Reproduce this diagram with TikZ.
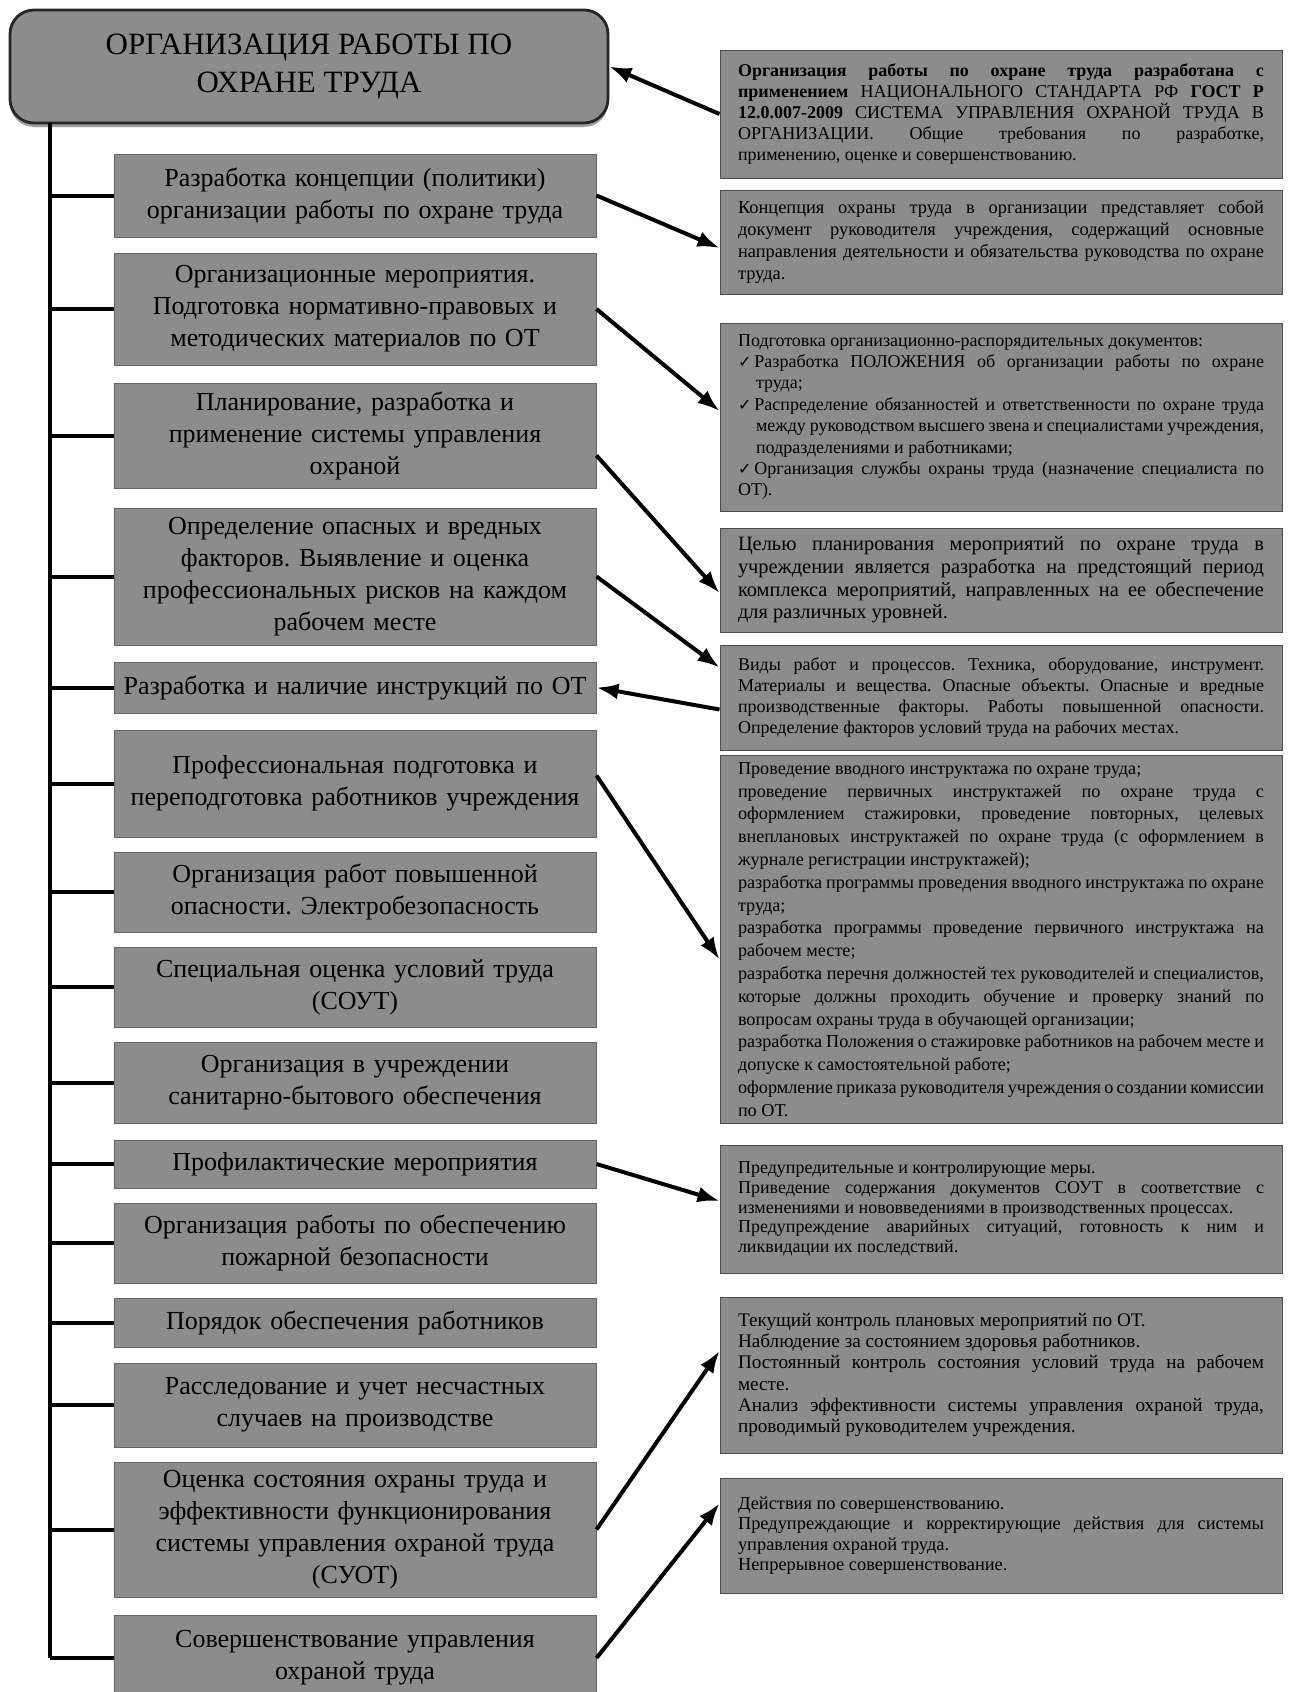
\documentclass[tikz,border=0pt]{standalone}
\usepackage{fontspec}
\setmainfont{Liberation Serif}
\newfontfamily\checkfont{DejaVu Sans}
\newcommand\okmark{\hangindent=1em\hangafter=1{\checkfont\fontsize{8}{10}\selectfont ✓}\,}
\frenchspacing
\usetikzlibrary{arrows.meta,shadows}
\tikzset{
  head/.style={draw=black!85,line width=1.4pt,fill=black!45,rounded corners=12pt,minimum width=299pt,minimum height=56.5pt,align=center,font=\fontsize{15.5}{19}\selectfont,drop shadow={shadow xshift=0pt,shadow yshift=-2pt,fill=black!75}},
  lbox/.style={draw=black!60,line width=0.5pt,fill=black!45,text width=236pt,inner xsep=2.5pt,align=center,font=\fontsize{13}{16}\selectfont},
  rbox/.style={draw=black!70,line width=0.5pt,fill=black!45,text width=263pt,inner xsep=9pt,align=justify,font=\fontsize{9}{10.5}\selectfont},
  branch/.style={line width=2pt},
  conn/.style={line width=2pt,-{Latex[length=11pt,width=8pt]}}
}

\begin{document}
\begin{tikzpicture}[x=0.5pt,y=-0.5pt]
\fill[white,use as bounding box] (0,0) rectangle (1291,1692);

\node[head] (title) at (309,66.5) {ОРГАНИЗАЦИЯ РАБОТЫ ПО\\ОХРАНЕ ТРУДА};

\node[lbox,minimum height=41.5pt] (l1) at (355,195.5) {Разработка концепции (политики)\\организации работы по охране труда};
\node[lbox,minimum height=56pt] (l2) at (355,309) {Организационные мероприятия.\\Подготовка нормативно-правовых и\\методических материалов по ОТ};
\node[lbox,minimum height=52.5pt] (l3) at (355,435.5) {Планирование, разработка и\\применение системы управления\\охраной};
\node[lbox,minimum height=68.5pt] (l4) at (355,576.5) {Определение опасных и вредных\\факторов. Выявление и оценка\\профессиональных рисков на каждом\\рабочем месте};
\node[lbox,minimum height=25.5pt] (l5) at (355,687.5) {Разработка и наличие инструкций по ОТ};
\node[lbox,minimum height=53.5pt] (l6) at (355,783.5) {Профессиональная подготовка и\\переподготовка работников учреждения};
\node[lbox,minimum height=40pt] (l7) at (355,892) {Организация работ повышенной\\опасности. Электробезопасность};
\node[lbox,minimum height=40pt] (l8) at (355,987) {Специальная оценка условий труда\\(СОУТ)};
\node[lbox,minimum height=40.5pt] (l9) at (355,1082.5) {Организация в учреждении\\санитарно-бытового обеспечения};
\node[lbox,minimum height=24pt] (l10) at (355,1164) {Профилактические мероприятия};
\node[lbox,minimum height=40pt] (l11) at (355,1243) {Организация работы по обеспечению\\пожарной безопасности};
\node[lbox,minimum height=24.5pt] (l12) at (355,1322.5) {Порядок обеспечения работников};
\node[lbox,minimum height=42pt] (l13) at (355,1405) {Расследование и учет несчастных\\случаев на производстве};
\node[lbox,minimum height=67.5pt] (l14) at (355,1529.5) {Оценка состояния охраны труда и\\эффективности функционирования\\системы управления охраной труда\\(СУОТ)};
\node[lbox,minimum height=43pt] (l15) at (355,1658) {Совершенствование управления\\охраной труда};

\node[rbox,minimum height=64pt,font=\fontsize{9}{10.6}\selectfont] (r1) at (1001,114) {{\bfseries Организация работы по охране труда разработана с\linebreak применением} НАЦИОНАЛЬНОГО СТАНДАРТА РФ {\bfseries ГОСТ~Р\linebreak 12.0.007-2009} СИСТЕМА УПРАВЛЕНИЯ ОХРАНОЙ ТРУДА В\linebreak ОРГАНИЗАЦИИ. Общие требования по разработке,\linebreak применению, оценке и совершенствованию.};
\node[rbox,minimum height=52pt,font=\fontsize{9.2}{11}\selectfont] (r2) at (1001,242) {Концепция охраны труда в организации представляет собой документ руководителя учреждения, содержащий основные направления деятельности и обязательства руководства по охране труда.};
\node[rbox,minimum height=94pt,font=\fontsize{9}{10.7}\selectfont] (r3) at (1001,417) {Подготовка организационно-распорядительных документов:\par
\okmark Разработка ПОЛОЖЕНИЯ об организации работы по охране\linebreak труда;\par
\okmark Распределение обязанностей и ответственности по охране труда между руководством высшего звена и специалистами учреждения, подразделениями и работниками;\par
\okmark Организация службы охраны труда (назначение специалиста по ОТ).};
\node[rbox,minimum height=52pt,font=\fontsize{10.2}{11.3}\selectfont] (r4) at (1001,580) {Целью планирования мероприятий по охране труда в учреждении является разработка на предстоящий период комплекса мероприятий, направленных на ее обеспечение для различных уровней.};
\node[rbox,minimum height=52.5pt,font=\fontsize{9}{10.4}\selectfont] (r5) at (1001,697.5) {Виды работ и процессов. Техника, оборудование, инструмент. Материалы и вещества. Опасные объекты. Опасные и вредные производственные факторы. Работы повышенной опасности. Определение факторов условий труда на рабочих местах.};
\node[rbox,minimum height=177.5pt,font=\fontsize{9.1}{11.4}\selectfont] (r6) at (1001,939.5) {Проведение вводного инструктажа по охране труда;\par
проведение первичных инструктажей по охране труда с оформлением стажировки, проведение повторных, целевых внеплановых инструктажей по охране труда (с оформлением в журнале регистрации инструктажей);\par
разработка программы проведения вводного инструктажа по охране труда;\par
разработка программы проведение первичного инструктажа на рабочем месте;\par
разработка перечня должностей тех руководителей и специалистов, которые должны проходить обучение и проверку знаний по\linebreak вопросам охраны труда в обучающей организации;\par
разработка Положения о стажировке работников на рабочем месте и допуске к самостоятельной работе;\par
оформление приказа руководителя учреждения о создании комиссии по ОТ.};
\node[rbox,minimum height=64pt,font=\fontsize{9}{9.8}\selectfont] (r7) at (1001,1209) {Предупредительные и контролирующие меры.\par
Приведение содержания документов СОУТ в соответствие с изменениями и нововведениями в производственных процессах.\par
Предупреждение аварийных ситуаций, готовность к ним и ликвидации их последствий.};
\node[rbox,minimum height=78pt,font=\fontsize{9.6}{10.6}\selectfont] (r8) at (1001,1375) {Текущий контроль плановых мероприятий по ОТ.\par
Наблюдение за состоянием здоровья работников.\par
Постоянный контроль состояния условий труда на рабочем месте.\par
Анализ эффективности системы управления охраной труда, проводимый руководителем учреждения.};
\node[rbox,minimum height=57.5pt,font=\fontsize{9.2}{10.2}\selectfont] (r9) at (1001,1535.5) {Действия по совершенствованию.\par
Предупреждающие и корректирующие действия для системы управления охраной труда.\par
Непрерывное совершенствование.};

\coordinate (stop) at (50,123);
\draw[line width=1.6pt] (stop) -- (l15.west -| stop);
\foreach \i in {1,...,15}
  \draw[branch] (l\i.west) -- (l\i.west -| stop);

\draw[conn] (r1.west) -- (title.east);
\draw[conn] (l1.east) -- ([yshift=-3pt]r2.west);
\draw[conn] (l2.east) -- ([yshift=3pt]r3.west);
\draw[conn] ([yshift=-10pt]l3.east) -- ([yshift=-6.5pt]r4.west);
\draw[conn] (l4.east) -- ([yshift=15pt]r5.west);
\draw[conn] ([yshift=-6pt]r5.west) -- (l5.east);
\draw[conn] ([yshift=4pt]l6.east) -- ([yshift=-10pt]r6.west);
\draw[conn] (l10.east) -- ([yshift=4pt]r7.west);
\draw[conn] (l14.east) -- ([yshift=12pt]r8.west);
\draw[conn] (l15.east) -- ([yshift=16pt]r9.west);
\end{tikzpicture}
\end{document}
